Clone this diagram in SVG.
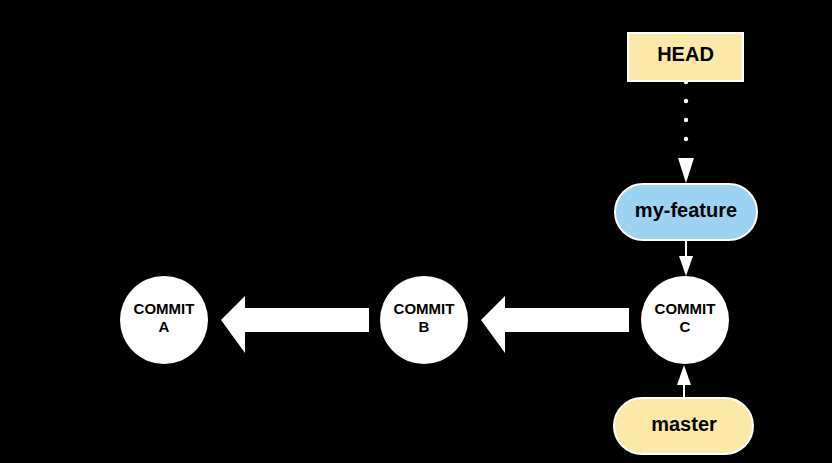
<svg xmlns="http://www.w3.org/2000/svg" width="832" height="463" viewBox="0 0 832 463">
<style>
text{font-family:"Liberation Sans",Arial,sans-serif;font-weight:bold;fill:#000;text-anchor:middle}
.commit{fill:#fff}
.ct{font-size:15px}
.lbl{font-size:20px}
.line{stroke:#fff;stroke-width:2;fill:none}
.dots{stroke:#fff;stroke-width:4.5;fill:none;stroke-linecap:round;stroke-dasharray:0 19}
.head{fill:#fff}
</style>
<rect width="832" height="463" fill="#000"/>
<g id="connectors">
<path class="dots" d="M686 82V140"/>
<polygon class="head" points="678,158 694,158 686,183"/>
<path class="line" d="M686 241V258"/>
<polygon class="head" points="679,256 693,256 686,276"/>
<path class="line" d="M684 385V398"/>
<polygon class="head" points="677,385 691,385 684,365"/>
<polygon class="head" points="221,320 245,296 245,308 369,308 369,332 245,332 245,353"/>
<polygon class="head" points="481,320 505,296 505,308 629,308 629,332 505,332 505,353"/>
</g>
<g id="head">
<rect x="628" y="33" width="115" height="48" fill="#fde9a7" stroke="#fff" stroke-width="2"/>
<text class="lbl" x="685.5" y="61">HEAD</text>
</g>
<g id="my-feature">
<rect x="615" y="184" width="142" height="56" rx="28" fill="#9dd3f2" stroke="#fff" stroke-width="2"/>
<text class="lbl" x="686" y="217">my-feature</text>
</g>
<g id="master">
<rect x="614" y="398" width="139" height="56" rx="28" fill="#fde9a7" stroke="#fff" stroke-width="2"/>
<text class="lbl" x="684" y="431">master</text>
</g>
<g id="commit-a">
<circle class="commit" cx="164" cy="320" r="44"/>
<text class="ct" x="164" y="314">COMMIT</text>
<text class="ct" x="164" y="332">A</text>
</g>
<g id="commit-b">
<circle class="commit" cx="424" cy="320" r="44"/>
<text class="ct" x="424" y="314">COMMIT</text>
<text class="ct" x="424" y="332">B</text>
</g>
<g id="commit-c">
<circle class="commit" cx="685" cy="320" r="44"/>
<text class="ct" x="685" y="314">COMMIT</text>
<text class="ct" x="685" y="332">C</text>
</g>
</svg>
